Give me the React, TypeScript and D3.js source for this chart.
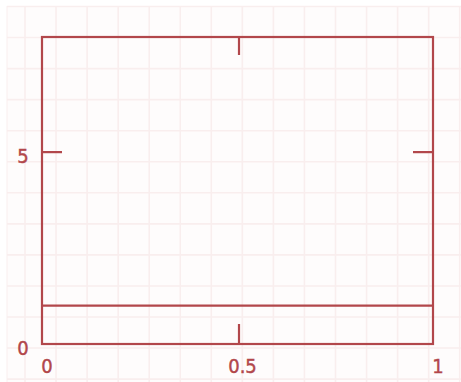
import React from "react";
import * as d3 from "d3";

const W = 461;
const H = 382;

// data
const xDomain = [0, 1];
const yDomain = [0, 8];
const xTickLabels = [0, 0.5, 1];
const yTickLabels = [0, 5];
const xTickMarks = [0.5];
const yTickMarks = [5];
const seriesX = [0, 1];
const seriesY = [1, 1];

const COLOR = "#b2474b";
const GRID = "#f9eeee";

export default function App() {
  const x = d3.scaleLinear().domain(xDomain).range([42, 433]);
  const y = d3.scaleLinear().domain(yDomain).range([344, 37]);
  const line = d3
    .line<number>()
    .x((_, i) => x(seriesX[i]))
    .y((d) => y(d));

  const gridXs = d3.range(25, W + 1, 31.05);
  const gridYs = d3.range(6.5, H + 1, 31.05);
  const tickLen = 20;
  const font = "'DejaVu Sans Condensed', 'DejaVu Sans', sans-serif";

  return (
    <svg
      width={W}
      height={H}
      style={{ position: "fixed", left: 0, top: 0, background: "#fff" }}
    >
      <rect x={7} y={6} width={W - 7} height={H - 6} fill="#fefcfc" />
      <line x1={7} x2={7} y1={6} y2={H} stroke={GRID} strokeWidth={1} />
      {gridXs.map((gx, i) => (
        <line key={"gx" + i} x1={gx} x2={gx} y1={6} y2={H} stroke={GRID} strokeWidth={1.6} />
      ))}
      {gridYs.map((gy, i) => (
        <line key={"gy" + i} x1={7} x2={W} y1={gy} y2={gy} stroke={GRID} strokeWidth={1.6} />
      ))}

      <rect
        x={x(0)}
        y={y(8)}
        width={x(1) - x(0)}
        height={y(0) - y(8)}
        fill="none"
        stroke={COLOR}
        strokeWidth={2.2}
      />
      {xTickMarks.map((t) => (
        <g key={"xt" + t}>
          <line x1={x(t) + 1.5} x2={x(t) + 1.5} y1={y(8)} y2={y(8) + tickLen - 2} stroke={COLOR} strokeWidth={2.2} />
          <line x1={x(t) + 1.5} x2={x(t) + 1.5} y1={y(0)} y2={y(0) - tickLen} stroke={COLOR} strokeWidth={2.2} />
        </g>
      ))}
      {yTickMarks.map((t) => (
        <g key={"yt" + t}>
          <line x1={x(0)} x2={x(0) + tickLen} y1={y(t)} y2={y(t)} stroke={COLOR} strokeWidth={2.2} />
          <line x1={x(1)} x2={x(1) - tickLen} y1={y(t)} y2={y(t)} stroke={COLOR} strokeWidth={2.2} />
        </g>
      ))}
      <path d={line(seriesY) || ""} fill="none" stroke={COLOR} strokeWidth={2.2} />

      {xTickLabels.map((t) => (
        <text
          key={"xl" + t}
          x={x(t) + 5}
          y={y(0) + 29}
          textAnchor="middle"
          fill={COLOR}
          stroke={COLOR}
          strokeWidth={0.4}
          fontFamily={font}
          fontSize={20}
        >
          {String(t)}
        </text>
      ))}
      {yTickLabels.map((t) => (
        <text
          key={"yl" + t}
          x={x(0) - 19}
          y={y(t) + 11}
          textAnchor="middle"
          fill={COLOR}
          stroke={COLOR}
          strokeWidth={0.4}
          fontFamily={font}
          fontSize={20}
        >
          {String(t)}
        </text>
      ))}
    </svg>
  );
}
